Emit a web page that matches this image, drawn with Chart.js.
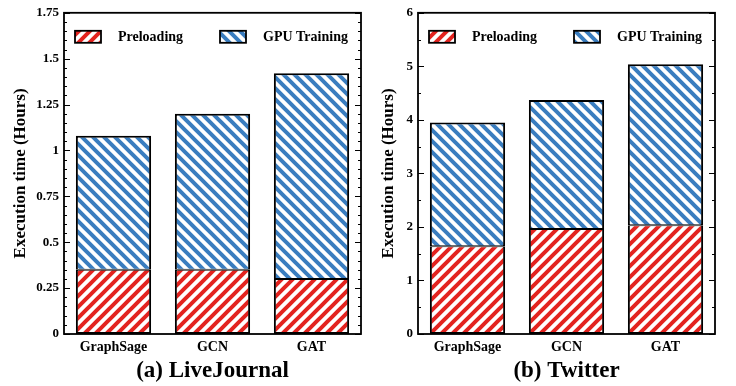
<!DOCTYPE html>
<html>
<head>
<meta charset="utf-8">
<script src="https://cdn.jsdelivr.net/npm/chart.js@4.4.1/dist/chart.umd.min.js"></script>
<style>
  body { margin: 0; background: #fff; }
  .row { display: flex; width: 736px; height: 386px; }
  canvas { display: block; }
</style>
</head>
<body>
<div class="row">
  <canvas id="ljChart" width="368" height="386"></canvas>
  <canvas id="twChart" width="368" height="386"></canvas>
</div>
<script>
// Donnees
const categories = ['GraphSage', 'GCN', 'GAT'];
const seriesNames = ['Preloading', 'GPU Training'];

// (a) LiveJournal
const ljPreloading = [0.35, 0.35, 0.30];
const ljGpuTraining = [0.73, 0.85, 1.12];

// (b) Twitter
const twPreloading = [1.64, 1.96, 2.03];
const twGpuTraining = [2.31, 2.41, 3.01];

const RED = '#e3231f';
const BLUE = '#3a7dbf';
const FONT = '"Liberation Serif", "Times New Roman", serif';

// motif hachure : dir 1 = '/', dir -1 = '\'
function hatch(ctx, color, dir) {
  const p = 11;
  const tile = document.createElement('canvas');
  tile.width = p; tile.height = p;
  const t = tile.getContext('2d');
  t.fillStyle = '#fff';
  t.fillRect(0, 0, p, p);
  t.strokeStyle = color;
  t.lineWidth = 4;
  t.beginPath();
  if (dir > 0) {
    t.moveTo(0, p); t.lineTo(p, 0);
    t.moveTo(-3, 3); t.lineTo(3, -3);
    t.moveTo(p - 3, p + 3); t.lineTo(p + 3, p - 3);
  } else {
    t.moveTo(0, 0); t.lineTo(p, p);
    t.moveTo(-3, p - 3); t.lineTo(3, p + 3);
    t.moveTo(p - 3, -3); t.lineTo(p + 3, 3);
  }
  t.stroke();
  return ctx.createPattern(tile, 'repeat');
}

// cadre, graduations interieures et legende dans la zone du graphique
const framePlugin = {
  id: 'frame',
  afterDraw(chart, args, opts) {
    const ctx = chart.ctx;
    const a = chart.chartArea;
    const y = chart.scales.y;
    ctx.save();
    ctx.strokeStyle = '#000';
    ctx.lineWidth = 1.2;
    for (let v = y.min; v <= y.max + 1e-9; v += opts.minor) {
      const py = Math.round(y.getPixelForValue(v)) + 0.5;
      const r = v / opts.major;
      const len = Math.abs(r - Math.round(r)) < 1e-6 ? 6 : 3;
      ctx.beginPath();
      ctx.moveTo(a.left, py); ctx.lineTo(a.left + len, py);
      ctx.moveTo(a.right, py); ctx.lineTo(a.right - len, py);
      ctx.stroke();
    }
    ctx.lineWidth = 1.8;
    ctx.strokeRect(a.left, a.top, a.right - a.left, a.bottom - a.top);

    // legende
    const offsets = [[11, 54], [156, 199]];
    ctx.font = 'bold 14px ' + FONT;
    ctx.textBaseline = 'middle';
    chart.data.datasets.forEach((ds, i) => {
      const bx = a.left + offsets[i][0];
      const by = a.top + 18;
      ctx.fillStyle = ds.backgroundColor;
      ctx.fillRect(bx, by, 26, 12);
      ctx.lineWidth = 1.8;
      ctx.strokeRect(bx, by, 26, 12);
      ctx.fillStyle = '#000';
      ctx.fillText(ds.label, a.left + offsets[i][1], by + 7);
    });
    ctx.restore();
  }
};

function makeChart(id, preload, gpu, yMax, major, minor, title, axisWidth, padRight) {
  const ctx = document.getElementById(id).getContext('2d');
  return new Chart(ctx, {
    type: 'bar',
    data: {
      labels: categories,
      datasets: [{
        label: seriesNames[0],
        data: preload,
        backgroundColor: hatch(ctx, RED, 1),
        borderColor: '#000',
        borderWidth: { top: 1, left: 2, right: 2, bottom: 2 },
        borderSkipped: false
      }, {
        label: seriesNames[1],
        data: gpu,
        backgroundColor: hatch(ctx, BLUE, -1),
        borderColor: '#000',
        borderWidth: { top: 2, left: 2, right: 2, bottom: 1 },
        borderSkipped: false
      }]
    },
    options: {
      responsive: false,
      animation: false,
      layout: { padding: { top: 12, right: padRight, bottom: 0, left: 0 } },
      datasets: { bar: { barPercentage: 0.76, categoryPercentage: 1 } },
      plugins: {
        legend: { display: false },
        tooltip: { enabled: false },
        frame: { major: major, minor: minor }
      },
      scales: {
        x: {
          stacked: true,
          grid: { display: false, drawTicks: false },
          border: { display: false },
          ticks: { color: '#000', padding: 5, font: { family: FONT, size: 14, weight: 'bold' } },
          title: {
            display: true,
            text: title,
            color: '#000',
            padding: { top: 0, bottom: 1 },
            font: { family: FONT, size: 23, weight: 'bold' }
          },
          afterFit: s => { s.height = 52; }
        },
        y: {
          stacked: true,
          min: 0,
          max: yMax,
          grid: { display: false, drawTicks: false },
          border: { display: false },
          ticks: {
            stepSize: major,
            color: '#000',
            padding: 5,
            font: { family: FONT, size: 13, weight: 'bold' },
            callback: v => String(v)
          },
          title: {
            display: true,
            text: 'Execution time (Hours)',
            color: '#000',
            padding: { top: 10, bottom: 0 },
            font: { family: FONT, size: 17, weight: 'bold' }
          },
          afterFit: s => { s.width = axisWidth; }
        }
      }
    },
    plugins: [framePlugin]
  });
}

makeChart('ljChart', ljPreloading, ljGpuTraining, 1.75, 0.25, 0.05, '(a) LiveJournal', 64, 7);
makeChart('twChart', twPreloading, twGpuTraining, 6, 1, 0.5, '(b) Twitter', 50, 21);
</script>
</body>
</html>
